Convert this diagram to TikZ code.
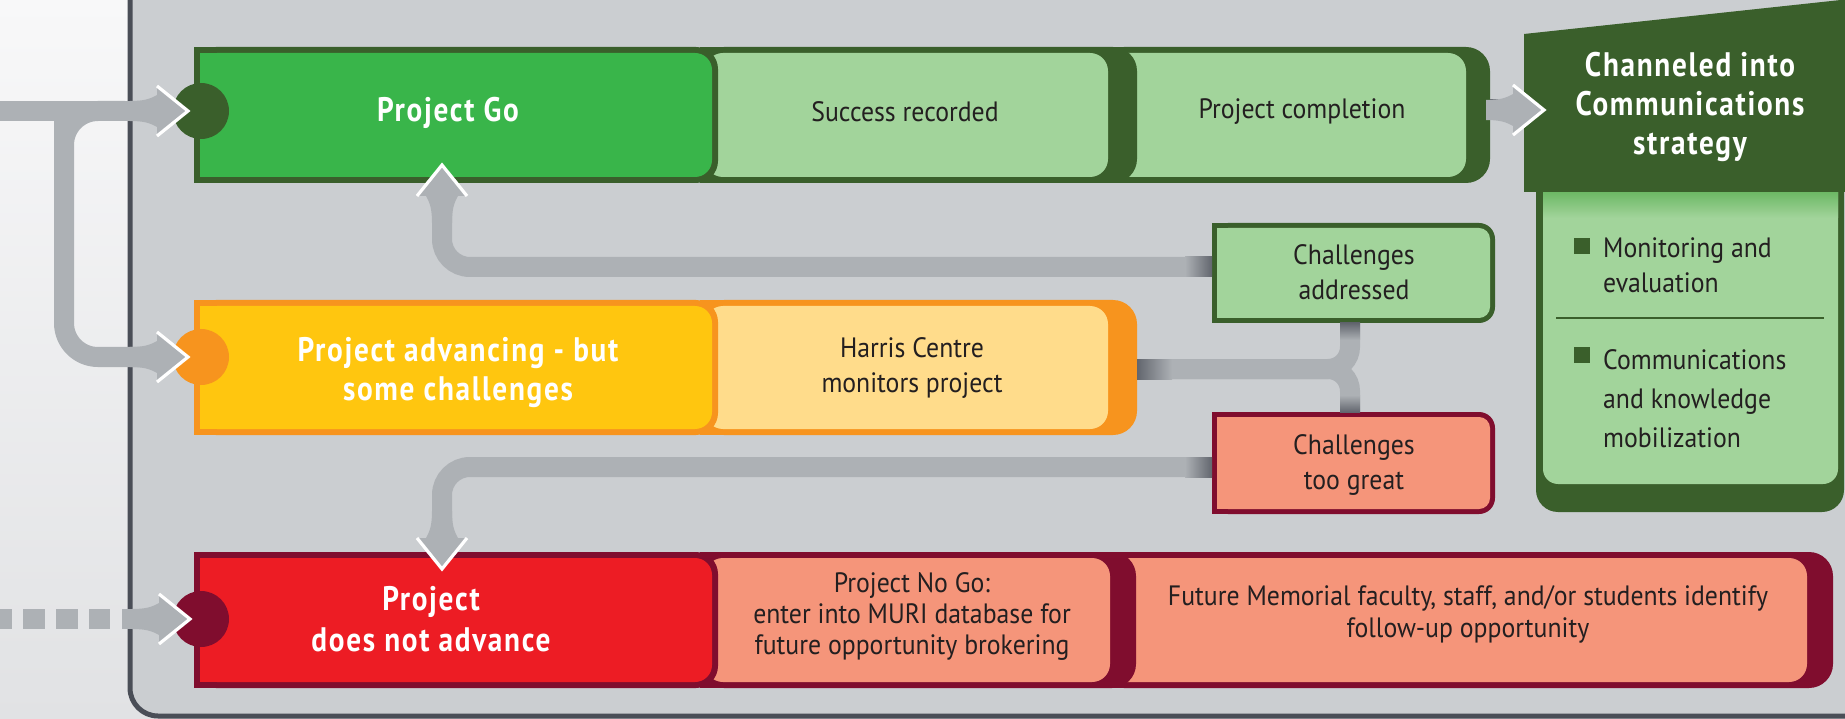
\documentclass[tikz,border=0pt]{standalone}
\usepackage{fontspec}
\newfontfamily\bodyf{PT Sans}[FakeStretch=0.92]
\newfontfamily\headf{PT Sans}[FakeStretch=0.86,LetterSpace=5]
\definecolor{panel}{HTML}{CBCED1}
\definecolor{shaft}{HTML}{ADB1B5}
\definecolor{shaftdk}{HTML}{62666E}
\definecolor{pborder}{HTML}{4A4E57}
\definecolor{gmain}{HTML}{39B54A}
\definecolor{gdark}{HTML}{3A5F2B}
\definecolor{glight}{HTML}{A2D49B}
\definecolor{gmid}{HTML}{6DB865}
\definecolor{ymain}{HTML}{FFC60F}
\definecolor{ydark}{HTML}{F7941E}
\definecolor{ylight}{HTML}{FFDC8B}
\definecolor{rmain}{HTML}{ED1C24}
\definecolor{rdark}{HTML}{800D2E}
\definecolor{rlight}{HTML}{F5957A}
\definecolor{txt}{HTML}{231F20}
\definecolor{bgtop}{HTML}{F8F8F9}
\definecolor{bgbot}{HTML}{E1E2E4}
\tikzset{
  conn/.style={draw=shaft, line width=20, rounded corners=#1},
  chev/.pic={
    \fill[shaft] (-58,-10) .. controls (-44,-10) and (-38,-12) .. (-31,-16) -- (-31,16) .. controls (-38,12) and (-44,10) .. (-58,10) -- cycle;
    \fill[shaft] (-31,-25) -- (0,0) -- (-31,25) -- cycle;
    \draw[white, line width=3.2, line join=miter, miter limit=10] (-31,-25) -- (0,0) -- (-31,25);
  },
  bodytxt/.style={text=txt, align=center, font=\bodyf\fontsize{28}{35}\selectfont, inner sep=0},
  headtxt/.style={text=white, align=center, font=\headf\bfseries\fontsize{34}{39}\selectfont, inner sep=0},
}
\newcommand\segbox[7]{%
  \fill[#1, rounded corners=24] (#3,#5) rectangle (#4,#6);
  \fill[#1] (#3,#5) rectangle ({#4-40},#6);
  \fill[#2, rounded corners=18] ({#3+5},{#5+6}) rectangle ({#4-#7},{#6-6});
}
\newcommand\mainbox[4]{%
  \fill[#1, rounded corners=22] (194,#3) rectangle (718,#4);
  \fill[#1] (194,#3) rectangle (680,#4);
  \fill[#2, rounded corners=17] (200,{#3+6}) rectangle (712,{#4-6});
  \fill[#2] (200,{#3+6}) rectangle (680,{#4-6});
}
\newcommand\chalbox[4]{%
  \fill[#1, rounded corners=16] (1212,#3) rectangle (1495,#4);
  \fill[#1] (1212,#3) rectangle (1450,#4);
  \fill[#2, rounded corners=11] (1217,{#3+5}) rectangle (1490,{#4-5});
  \fill[#2] (1217,{#3+5}) rectangle (1440,{#4-5});
}
\begin{document}
\begin{tikzpicture}[x=1pt,y=-1pt]
\useasboundingbox (0,0) rectangle (1845,719);
% backgrounds
\shade[top color=bgtop, bottom color=bgbot] (0,0) rectangle (1845,719);
\filldraw[fill=panel, draw=pborder, line width=5, rounded corners=28] (130,-60) rectangle (1900,716);

% connector shafts
\draw[shaft, line width=20] (0,111) -- (150,111);
\draw[conn=34] (125,111) -- (64,111) -- (64,357) -- (150,357);
\draw[shaft, line width=20] (64,111) -- (64,300);
\draw[shaft, line width=20, dash pattern=on 22 off 11, dash phase=10] (0,619) -- (110,619);
\draw[shaft, line width=20] (122,619) -- (150,619);
\draw[conn=28] (1215,267) -- (442,267) -- (442,200);
\draw[conn=28] (1215,467) -- (442,467) -- (442,534);
\draw[conn=22] (1130,369) -- (1350,369) -- (1350,320);
\draw[conn=22] (1130,369) -- (1350,369) -- (1350,415);
\draw[shaft, line width=20] (1485,110) -- (1520,110);

% row 1
\segbox{gdark}{glight}{1100}{1490}{47}{183}{24}
\segbox{gdark}{glight}{700}{1137}{47}{183}{29}
\mainbox{gdark}{gmain}{47}{183}
% row 2
\segbox{ydark}{ylight}{700}{1137}{300}{435}{29}
\mainbox{ydark}{ymain}{300}{435}
% row 3
\segbox{rdark}{rlight}{1100}{1833}{552}{688}{26}
\segbox{rdark}{rlight}{700}{1136}{552}{688}{26}
\mainbox{rdark}{rmain}{552}{688}
% challenge boxes
\chalbox{gdark}{glight}{223}{323}
\chalbox{rdark}{rlight}{412}{514}

% communications panel
\fill[gdark, rounded corners=22] (1536,150) rectangle (1844,512);
\fill[glight, rounded corners=15] (1543,150) rectangle (1838,484);
\shade[top color=gmid, bottom color=glight] (1543,192) rectangle (1838,218);
\fill[gdark] (1524,34) -- (1850,-1) -- (1850,192) -- (1524,192) -- cycle;
\draw[gdark, line width=2] (1556,318) -- (1824,318);
\fill[gdark] (1574,238) rectangle (1590,254);
\fill[gdark] (1574,347) rectangle (1590,363);

% circles
\fill[gdark] (201,111) circle (28);
\fill[ydark] (201,357) circle (28);
\fill[rdark] (201,619) circle (28);

% shading at connector ends
\shade[left color=shaft, right color=shaftdk] (1185,257) rectangle (1212,277);
\shade[left color=shaft, right color=shaftdk] (1185,457) rectangle (1212,477);
\shade[left color=shaftdk, right color=shaft] (1137,359) rectangle (1172,379);
\shade[top color=shaftdk, bottom color=shaft] (1340,323) rectangle (1360,340);
\shade[top color=shaft, bottom color=shaftdk] (1340,395) rectangle (1360,412);
\shade[left color=shaftdk, right color=shaft] (1490,100) rectangle (1512,120);

% arrow heads
\coordinate (goin) at (188,111);
\coordinate (advin) at (188,357);
\coordinate (noin) at (190,619);
\coordinate (goup) at (442,165);
\coordinate (nodown) at (442,569);
\coordinate (chanin) at (1544,110);
\pic at (goin) {chev};
\pic at (advin) {chev};
\pic at (noin) {chev};
\pic[rotate=90] at (goup) {chev};
\pic[rotate=-90] at (nodown) {chev};
\pic at (chanin) {chev};

% texts
\node[headtxt] (go) at (448,113) {Project Go};
\node[bodytxt] (succ) at (905,112) {Success recorded};
\node[bodytxt] (compl) at (1302,112) {Project completion};
\node[headtxt] (adv) at (458,373) {Project advancing - but\\some challenges};
\node[bodytxt] (harris) at (912,368) {Harris Centre\\monitors project};
\node[bodytxt] (addr) at (1354,272) {Challenges\\addressed};
\node[bodytxt] (great) at (1354,465) {Challenges\\too great};
\node[headtxt, font=\headf\bfseries\fontsize{34}{41}\selectfont] (noadv) at (431,619) {Project\\does not advance};
\node[bodytxt, font=\bodyf\fontsize{28}{31}\selectfont] (nogo) at (912,616) {Project No Go:\\enter into MURI database for\\future opportunity brokering};
\node[bodytxt, font=\bodyf\fontsize{28}{32}\selectfont] (future) at (1468,614) {Future Memorial faculty, staff, and/or students identify\\follow-up opportunity};
\node[headtxt] (chan) at (1690,107) {Channeled into\\Communications\\strategy};
\node[bodytxt, align=left, anchor=west] (mon) at (1603,265) {Monitoring and\\evaluation};
\node[bodytxt, align=left, anchor=west, font=\bodyf\fontsize{28}{39}\selectfont] (comm) at (1603,399) {Communications\\and knowledge\\mobilization};
\end{tikzpicture}
\end{document}
